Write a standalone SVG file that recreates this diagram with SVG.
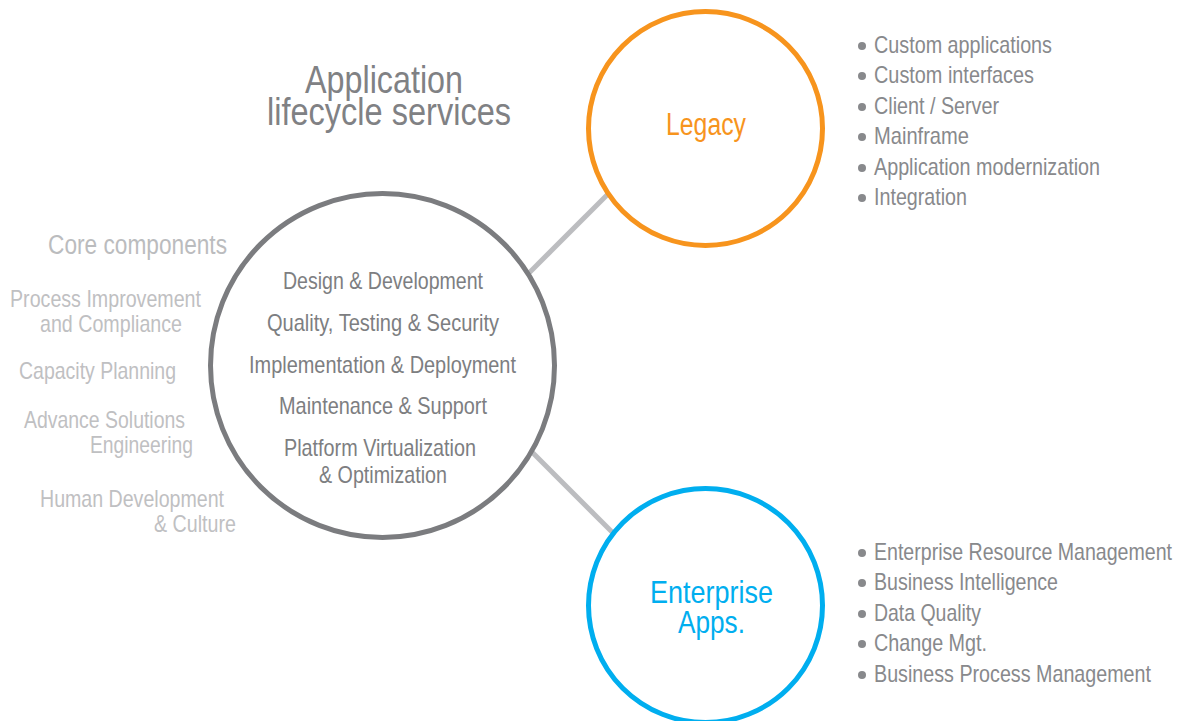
<svg xmlns="http://www.w3.org/2000/svg" width="1180" height="721" viewBox="0 0 1180 721">
<style>
text{font-family:"Liberation Sans Narrow","Liberation Sans",Arial,sans-serif;}
.title{font-size:39px;fill:#808184;text-anchor:middle;}
.core{font-size:24px;fill:#7d7e81;text-anchor:middle;}
.side{font-size:24px;fill:#bfc0c2;text-anchor:middle;}
.sidehead{font-size:27px;fill:#bbbcbe;text-anchor:middle;}
.item{font-size:24px;fill:#88898c;}
.dot{fill:#88898c;}
.conn{stroke:#bcbdc0;stroke-width:5;fill:none;}
</style>
<rect width="1180" height="721" fill="#ffffff"/>
<g id="connectors">
<line class="conn" x1="528" y1="274" x2="610" y2="192"/>
<line class="conn" x1="531" y1="451" x2="614" y2="534"/>
</g>
<g id="title">
<text class="title" x="384" y="93" textLength="158" lengthAdjust="spacingAndGlyphs">Application</text>
<text class="title" x="389" y="125" textLength="244" lengthAdjust="spacingAndGlyphs">lifecycle services</text>
</g>
<g id="core-components">
<text class="sidehead" x="137.5" y="254" textLength="179" lengthAdjust="spacingAndGlyphs">Core components</text>
<text class="side" x="105.5" y="307" textLength="191" lengthAdjust="spacingAndGlyphs">Process Improvement</text>
<text class="side" x="111" y="332" textLength="142" lengthAdjust="spacingAndGlyphs">and Compliance</text>
<text class="side" x="97.5" y="379" textLength="157" lengthAdjust="spacingAndGlyphs">Capacity Planning</text>
<text class="side" x="104.5" y="428" textLength="161" lengthAdjust="spacingAndGlyphs">Advance Solutions</text>
<text class="side" x="141.5" y="453" textLength="103" lengthAdjust="spacingAndGlyphs">Engineering</text>
<text class="side" x="132" y="507" textLength="184" lengthAdjust="spacingAndGlyphs">Human Development</text>
<text class="side" x="195" y="532" textLength="82" lengthAdjust="spacingAndGlyphs">&amp; Culture</text>
</g>
<g id="core-circle">
<circle cx="382.5" cy="365.5" r="172" fill="#ffffff" stroke="#7b7c7f" stroke-width="5"/>
<text class="core" x="383" y="289" textLength="200" lengthAdjust="spacingAndGlyphs">Design &amp; Development</text>
<text class="core" x="383" y="331" textLength="232" lengthAdjust="spacingAndGlyphs">Quality, Testing &amp; Security</text>
<text class="core" x="382.5" y="373" textLength="267" lengthAdjust="spacingAndGlyphs">Implementation &amp; Deployment</text>
<text class="core" x="383" y="414" textLength="208" lengthAdjust="spacingAndGlyphs">Maintenance &amp; Support</text>
<text class="core" x="380" y="456" textLength="192" lengthAdjust="spacingAndGlyphs">Platform Virtualization</text>
<text class="core" x="383" y="483" textLength="128" lengthAdjust="spacingAndGlyphs">&amp; Optimization</text>
</g>
<g id="legacy">
<circle cx="705.5" cy="128.5" r="117" fill="#ffffff" stroke="#f7941d" stroke-width="5"/>
<text x="706" y="135" font-size="31" fill="#f7941d" text-anchor="middle" textLength="80" lengthAdjust="spacingAndGlyphs">Legacy</text>
</g>
<g id="legacy-list">
<circle class="dot" cx="862" cy="46" r="4"/><text class="item" x="874" y="53" textLength="178" lengthAdjust="spacingAndGlyphs">Custom applications</text>
<circle class="dot" cx="862" cy="76" r="4"/><text class="item" x="874" y="83" textLength="160" lengthAdjust="spacingAndGlyphs">Custom interfaces</text>
<circle class="dot" cx="862" cy="107" r="4"/><text class="item" x="874" y="114" textLength="125" lengthAdjust="spacingAndGlyphs">Client / Server</text>
<circle class="dot" cx="862" cy="137" r="4"/><text class="item" x="874" y="144" textLength="95" lengthAdjust="spacingAndGlyphs">Mainframe</text>
<circle class="dot" cx="862" cy="168" r="4"/><text class="item" x="874" y="175" textLength="226" lengthAdjust="spacingAndGlyphs">Application modernization</text>
<circle class="dot" cx="862" cy="198" r="4"/><text class="item" x="874" y="205" textLength="93" lengthAdjust="spacingAndGlyphs">Integration</text>
</g>
<g id="enterprise">
<circle cx="705.5" cy="605.5" r="117" fill="#ffffff" stroke="#00aeef" stroke-width="5"/>
<text x="711.5" y="603" font-size="32" fill="#00aeef" text-anchor="middle" textLength="123" lengthAdjust="spacingAndGlyphs">Enterprise</text>
<text x="711.5" y="633" font-size="32" fill="#00aeef" text-anchor="middle" textLength="67" lengthAdjust="spacingAndGlyphs">Apps.</text>
</g>
<g id="enterprise-list">
<circle class="dot" cx="862" cy="553" r="4"/><text class="item" x="874" y="560" textLength="298" lengthAdjust="spacingAndGlyphs">Enterprise Resource Management</text>
<circle class="dot" cx="862" cy="583" r="4"/><text class="item" x="874" y="590" textLength="184" lengthAdjust="spacingAndGlyphs">Business Intelligence</text>
<circle class="dot" cx="862" cy="614" r="4"/><text class="item" x="874" y="621" textLength="107" lengthAdjust="spacingAndGlyphs">Data Quality</text>
<circle class="dot" cx="862" cy="644" r="4"/><text class="item" x="874" y="651" textLength="113" lengthAdjust="spacingAndGlyphs">Change Mgt.</text>
<circle class="dot" cx="862" cy="675" r="4"/><text class="item" x="874" y="682" textLength="277" lengthAdjust="spacingAndGlyphs">Business Process Management</text>
</g>
</svg>
